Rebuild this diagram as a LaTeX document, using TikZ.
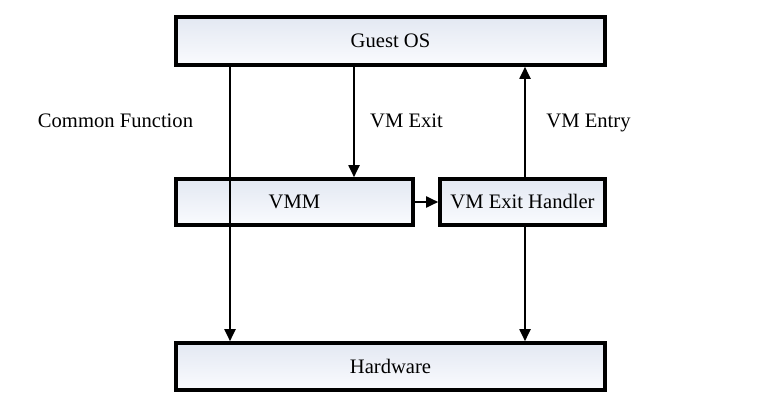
\documentclass[tikz,border=0pt]{standalone}
\usepackage{fontspec}
\setmainfont{Liberation Serif}
\usetikzlibrary{arrows.meta,shadings}
\definecolor{boxtop}{HTML}{E3E8F2}
\definecolor{boxbot}{HTML}{FAFBFE}
\begin{document}
\begin{tikzpicture}[x=1pt,y=-1pt,
  box/.style={draw=black, line width=3.6pt, top color=boxtop, bottom color=boxbot,
    font=\fontsize{20.6}{24}\selectfont, inner sep=0pt},
  arr/.style={line width=1.9pt, -{Triangle[length=12pt,width=11pt]}},
  lbl/.style={font=\fontsize{20.6}{24}\selectfont, inner sep=0pt, anchor=base}]
\useasboundingbox (0,0) rectangle (784,406);
\node[box, minimum width=429pt, minimum height=48pt] (guest) at (390.5,41) {Guest OS};
\node[box, minimum width=237pt, minimum height=46pt] (vmm) at (294.5,202) {VMM};
\node[box, minimum width=165pt, minimum height=46pt] (handler) at (522.5,202) {VM Exit Handler};
\node[box, minimum width=429pt, minimum height=47pt] (hw) at (390.5,366.5) {Hardware};
\coordinate (cfx) at (230,0);
\coordinate (exx) at (354,0);
\coordinate (enx) at (525,0);
\draw[arr] (guest.south -| cfx) -- (hw.north -| cfx);
\draw[arr] (guest.south -| exx) -- (vmm.north -| exx);
\draw[arr] (handler.north -| enx) -- (guest.south -| enx);
\draw[arr] (handler.south -| enx) -- (hw.north -| enx);
\draw[arr] (vmm.east) -- (handler.west);
\node[lbl] (cf) at (115.5,128) {Common Function};
\node[lbl] (ex) at (406.5,128) {VM Exit};
\node[lbl] (en) at (588.5,128) {VM Entry};
\end{tikzpicture}
\end{document}
